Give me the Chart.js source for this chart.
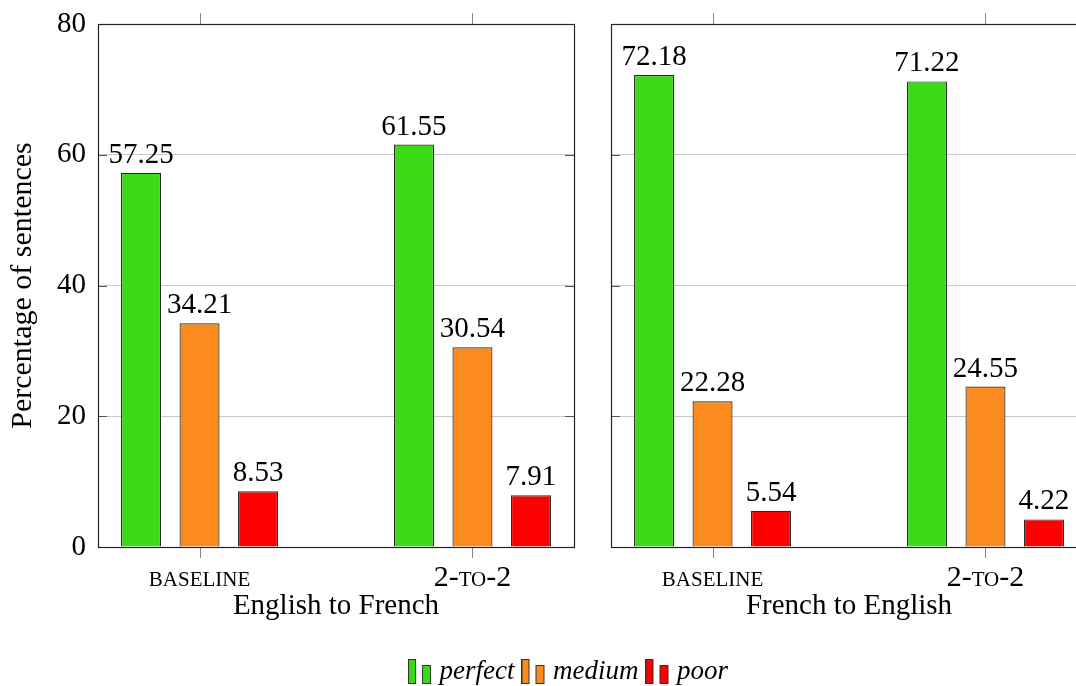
<!DOCTYPE html>
<html>
<head>
<meta charset="utf-8">
<script src="https://cdn.jsdelivr.net/npm/chart.js@4/dist/chart.umd.min.js"></script>
<style>
  html, body { margin: 0; padding: 0; background: #fff; overflow: hidden; }
  #wrap { position: relative; width: 1076px; height: 686px; overflow: hidden; }
  #left { position: absolute; left: 0; top: 0; }
  #right { position: absolute; left: 590px; top: 0; }
</style>
</head>
<body>
<div id="wrap">
  <canvas id="left" width="1142" height="695"></canvas>
  <canvas id="right" width="510" height="695"></canvas>
</div>
<script>
const categories = ['baseline', '2-to-2']
const seriesNames = ['perfect', 'medium', 'poor']
const enFrPerfect = [57.25, 61.55]
const enFrMedium = [34.21, 30.54]
const enFrPoor = [8.53, 7.91]
const frEnPerfect = [72.18, 71.22]
const frEnMedium = [22.28, 24.55]
const frEnPoor = [5.54, 4.22]
const yTicks = [0, 20, 40, 60, 80]

const colors = ['#3adb16', '#fb8b1f', '#ff0000']
const serif = "'Liberation Serif', serif"

Chart.defaults.font.family = serif
Chart.defaults.color = '#000'

// two-bar legend picture like the pgfplots ybar legend
function legendIcon(color) {
  const c = document.createElement('canvas')
  c.width = 24
  c.height = 25
  const g = c.getContext('2d')
  g.fillStyle = color
  g.strokeStyle = '#333'
  g.lineWidth = 1
  g.fillRect(0.5, 0.5, 7, 24)
  g.strokeRect(0.5, 0.5, 7, 24)
  g.fillRect(14.5, 6.5, 8, 18)
  g.strokeRect(14.5, 6.5, 8, 18)
  return c
}

function toPoints(values) {
  return values.map((v, i) => ({ x: i, y: v }))
}

function makeDatasets(perfect, medium, poor) {
  return [perfect, medium, poor].map((vals, i) => ({
    label: seriesNames[i],
    data: toPoints(vals),
    backgroundColor: colors[i],
    borderColor: '#2a2a2a',
    borderWidth: 1.2,
    categoryPercentage: 0.643,
    barPercentage: 0.684
  }))
}

const valueLabels = {
  id: 'valueLabels',
  afterDatasetsDraw(chart) {
    const ctx = chart.ctx
    ctx.save()
    ctx.font = '29px ' + serif
    ctx.fillStyle = '#000'
    ctx.textAlign = 'center'
    ctx.textBaseline = 'alphabetic'
    chart.data.datasets.forEach((ds, i) => {
      chart.getDatasetMeta(i).data.forEach((bar, j) => {
        ctx.fillText(ds.data[j].y.toFixed(2), bar.x, bar.y - 10)
      })
    })
    ctx.restore()
  }
}

const frame = {
  id: 'frame',
  afterDraw(chart) {
    const { ctx, chartArea: a } = chart
    const x = chart.scales.x
    const y = chart.scales.y
    ctx.save()
    // outward ticks on top and bottom at the categories
    ctx.strokeStyle = '#888'
    ctx.lineWidth = 1
    x.ticks.forEach(t => {
      const px = Math.round(x.getPixelForValue(t.value)) + 0.5
      ctx.beginPath()
      ctx.moveTo(px, a.top - 11)
      ctx.lineTo(px, a.top)
      ctx.moveTo(px, a.bottom)
      ctx.lineTo(px, a.bottom + 11)
      ctx.stroke()
    })
    // inward ticks on both sides
    ctx.strokeStyle = '#555'
    y.ticks.forEach(t => {
      const py = Math.round(y.getPixelForValue(t.value)) + 0.5
      ctx.beginPath()
      ctx.moveTo(a.left, py)
      ctx.lineTo(a.left + 9, py)
      ctx.moveTo(a.right - 9, py)
      ctx.lineTo(a.right, py)
      ctx.stroke()
    })
    ctx.strokeStyle = '#222'
    ctx.lineWidth = 1.2
    ctx.strokeRect(Math.round(a.left) + 0.5, Math.round(a.top) + 0.5,
      Math.round(a.right - a.left), Math.round(a.bottom - a.top))
    ctx.restore()
  }
}

function xScale(title) {
  return {
    type: 'linear',
    min: -0.372,
    max: 1.372,
    offset: false,
    afterBuildTicks: axis => { axis.ticks = categories.map((c, i) => ({ value: i })) },
    afterFit: axis => { axis.height = 98 },
    ticks: {
      padding: 13,
      maxRotation: 0,
      autoSkip: false,
      font: { size: 30, weight: 'small-caps' },
      callback: v => categories[v]
    },
    grid: { display: false, drawTicks: false },
    border: { display: false },
    title: {
      display: true,
      text: title,
      font: { size: 29 },
      padding: { top: 0, bottom: 21 }
    }
  }
}

function yScale(showLabels) {
  return {
    min: 0,
    max: 80,
    afterBuildTicks: axis => { axis.ticks = yTicks.map(v => ({ value: v })) },
    afterFit: axis => { axis.width = showLabels ? 98 : 0 },
    ticks: { display: showLabels, padding: 12, font: { size: 29, lineHeight: 0.8 } },
    grid: {
      drawTicks: false,
      color: c => (c.tick && (c.tick.value === 0 || c.tick.value === 80)) ? 'rgba(0,0,0,0)' : '#c8c8c8'
    },
    border: { display: false },
    title: {
      display: showLabels,
      text: 'Percentage of sentences',
      font: { size: 30 },
      padding: { top: 5, bottom: 0 }
    }
  }
}

const icons = colors.map(legendIcon)

new Chart(document.getElementById('left'), {
  type: 'bar',
  data: { datasets: makeDatasets(enFrPerfect, enFrMedium, enFrPoor) },
  options: {
    responsive: false,
    animation: false,
    layout: { padding: { top: 24, left: 0, right: 0, bottom: 0 } },
    scales: {
      x: xScale('English to French'),
      y: yScale(true),
      yr: {
        type: 'linear',
        position: 'right',
        afterFit: axis => { axis.width = 568 },
        ticks: { display: false },
        grid: { display: false },
        border: { display: false }
      }
    },
    plugins: {
      tooltip: { enabled: false },
      legend: {
        position: 'bottom',
        labels: {
          usePointStyle: true,
          pointStyleWidth: 12,
          padding: 13,
          color: '#000',
          font: { size: 27, style: 'italic' },
          generateLabels: chart => chart.data.datasets.map((ds, i) => ({
            text: ds.label,
            pointStyle: icons[i],
            fillStyle: ds.backgroundColor,
            strokeStyle: 'rgba(0,0,0,0)',
            lineWidth: 0,
            hidden: false,
            datasetIndex: i,
            fontColor: '#000'
          }))
        }
      }
    }
  },
  plugins: [valueLabels, frame]
})

new Chart(document.getElementById('right'), {
  type: 'bar',
  data: { datasets: makeDatasets(frEnPerfect, frEnMedium, frEnPoor) },
  options: {
    responsive: false,
    animation: false,
    layout: { padding: { top: 24, left: 21, right: 13, bottom: 50 } },
    scales: {
      x: xScale('French to English'),
      y: yScale(false)
    },
    plugins: {
      tooltip: { enabled: false },
      legend: { display: false }
    }
  },
  plugins: [valueLabels, frame]
})
</script>
</body>
</html>
